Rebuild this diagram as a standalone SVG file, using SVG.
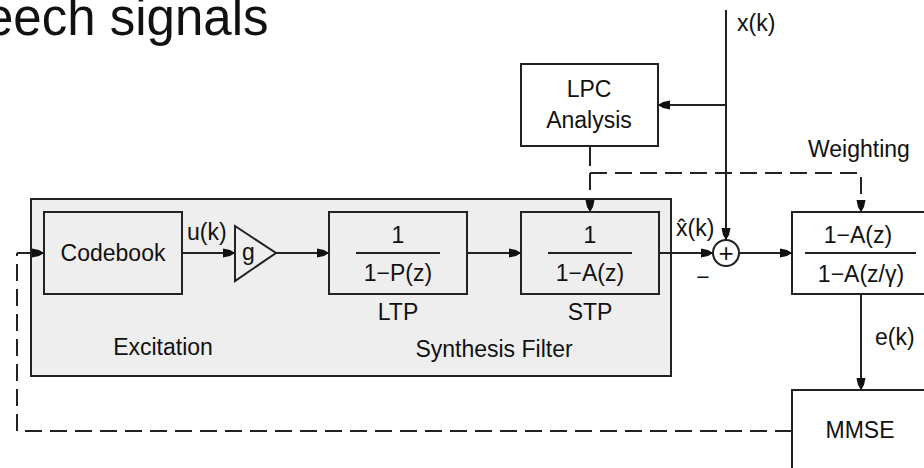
<svg xmlns="http://www.w3.org/2000/svg" width="924" height="468" viewBox="0 0 924 468">
<defs>
<style>
text{font-family:"Liberation Sans",Arial,sans-serif;font-size:23px;fill:#111}
.c{text-anchor:middle}
.box{stroke:#222;stroke-width:2;fill:#fff}
.gbox{stroke:#222;stroke-width:2;fill:#eeeeee}
.ln{stroke:#222;stroke-width:2;fill:none}
.dash{stroke:#222;stroke-width:2;fill:none;stroke-dasharray:17 8}
.arr{marker-end:url(#ah)}
</style>
<marker id="ah" markerUnits="userSpaceOnUse" viewBox="0 0 12 10" refX="12" refY="5" markerWidth="12" markerHeight="10" orient="auto">
<path d="M0,0.5 L7,2 L12,5 L7,8 L0,9.5 z" fill="#111"/>
</marker>
</defs>
<rect width="924" height="468" fill="#fff"/>
<text x="-15" y="35" style="font-size:51px" fill="#000">eech signals</text>

<g id="synthesis-block">
<rect class="gbox" x="31" y="199" width="640" height="177"/>
<text class="c" x="163" y="355">Excitation</text>
<text class="c" x="494" y="357">Synthesis Filter</text>
</g>

<g id="codebook">
<rect class="gbox" x="44" y="212" width="138" height="82"/>
<text class="c" x="113" y="261">Codebook</text>
</g>

<g id="gain">
<polygon class="gbox" points="235,226 276,253 235,281"/>
<text x="242" y="260">g</text>
</g>

<g id="ltp">
<rect class="gbox" x="329" y="212" width="138" height="82"/>
<text class="c" x="398" y="243">1</text>
<line class="ln" x1="356" y1="253" x2="440" y2="253"/>
<text class="c" x="398" y="281">1−P(z)</text>
<text class="c" x="398" y="320">LTP</text>
</g>

<g id="stp">
<rect class="gbox" x="521" y="212" width="138" height="82"/>
<text class="c" x="590" y="243">1</text>
<line class="ln" x1="548" y1="253" x2="632" y2="253"/>
<text class="c" x="590" y="281">1−A(z)</text>
<text class="c" x="590" y="320">STP</text>
</g>

<g id="lpc">
<rect class="box" x="521" y="64" width="137" height="82"/>
<text class="c" x="589" y="97">LPC</text>
<text class="c" x="589" y="128">Analysis</text>
</g>

<g id="sum">
<circle class="box" cx="726" cy="253" r="13"/>
<text class="c" x="726" y="262" style="font-size:26px">+</text>
</g>

<g id="weighting">
<rect class="box" x="792" y="212" width="150" height="82"/>
<text class="c" x="858" y="243">1−A(z)</text>
<line class="ln" x1="805" y1="253" x2="916" y2="253"/>
<text class="c" x="861" y="282">1−A(z/γ)</text>
<text x="808" y="157">Weighting</text>
</g>

<g id="mmse">
<rect class="box" x="792" y="390" width="150" height="100"/>
<text class="c" x="860" y="438">MMSE</text>
</g>

<g id="connectors">
<path class="dash" d="M792,431 H17 V253"/>
<path class="ln arr" d="M17,253 H44"/>
<path class="ln arr" d="M182,253 H235"/>
<path class="ln arr" d="M276,253 H329"/>
<path class="ln arr" d="M467,253 H521"/>
<path class="ln arr" d="M659,253 H713"/>
<path class="ln arr" d="M726,10 V240"/>
<path class="ln arr" d="M726,105 H658"/>
<path class="ln" d="M590,146 V166"/>
<path class="dash arr" d="M590,173 H861 V212"/>
<path class="dash arr" d="M590,173 V212"/>
<path class="ln arr" d="M739,253 H792"/>
<path class="ln arr" d="M861,294 V390"/>
</g>

<g id="labels">
<text x="737" y="31">x(k)</text>
<text x="187" y="240">u(k)</text>
<text x="676" y="236">x̂(k)</text>
<text class="c" x="703" y="285">−</text>
<text x="875" y="345">e(k)</text>
</g>
</svg>
